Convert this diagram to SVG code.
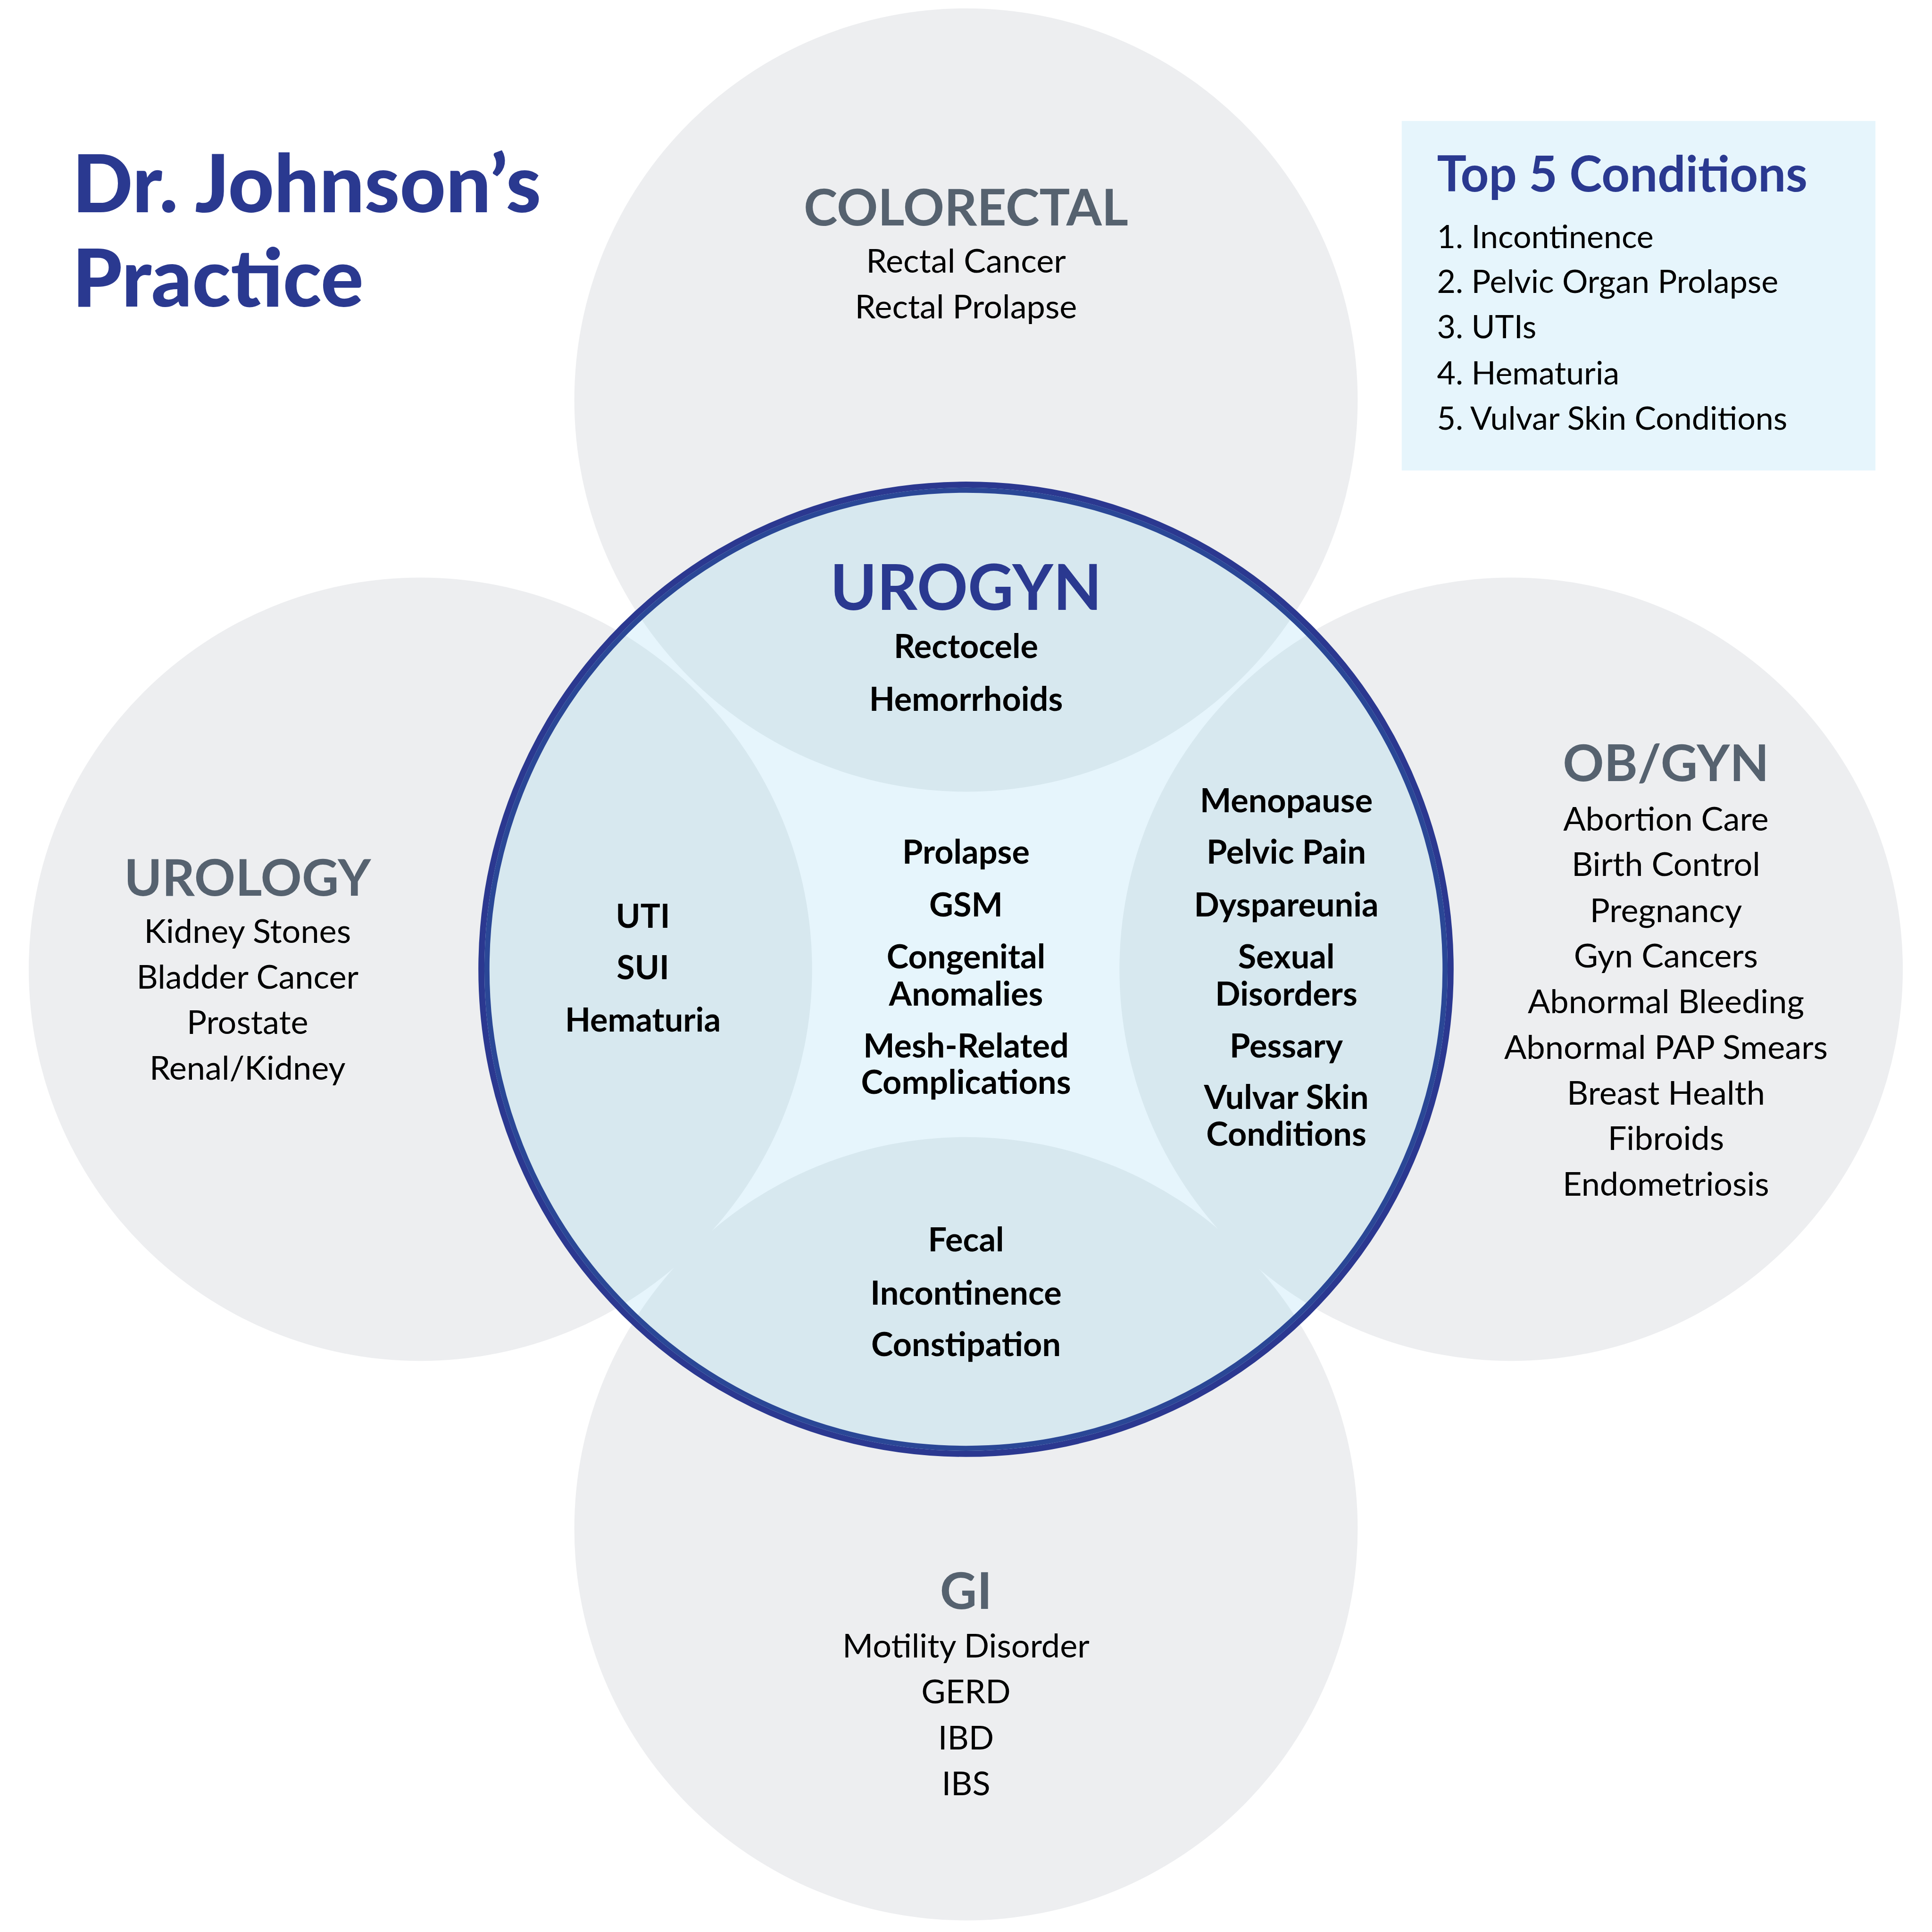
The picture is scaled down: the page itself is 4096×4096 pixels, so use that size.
<svg xmlns="http://www.w3.org/2000/svg" width="4096" height="4096" viewBox="0 0 4096 4096">
<style>
.gray{fill:#edeef0}
.lens{fill:#d7e8ef}
.hdr{font-family:Lato,"Liberation Sans",sans-serif;font-weight:700;font-size:110px;fill:#56626f;text-anchor:middle}
.item{font-family:Lato,"Liberation Sans",sans-serif;font-weight:400;font-size:71.5px;fill:#000;text-anchor:middle}
.bitem{font-family:Lato,"Liberation Sans",sans-serif;font-weight:700;font-size:71.5px;fill:#000;text-anchor:middle}
.title{font-family:Lato,"Liberation Sans",sans-serif;font-weight:900;font-size:172px;fill:#2a3990}
.top5h{font-family:Lato,"Liberation Sans",sans-serif;font-weight:700;font-size:106.3px;fill:#2a3990}
.top5{font-family:Lato,"Liberation Sans",sans-serif;font-weight:400;font-size:69.3px;fill:#000}
</style>
<defs>
<clipPath id="centerClip"><circle cx="2084" cy="2091" r="1046"/></clipPath>
</defs>
<rect width="4096" height="4096" fill="#ffffff"/>
<g transform="scale(0.98273)">
  <g id="colorectal"><circle class="gray" cx="2084" cy="863" r="845"/></g>
  <g id="urology"><circle class="gray" cx="907" cy="2091" r="845"/></g>
  <g id="obgyn"><circle class="gray" cx="3260" cy="2091" r="845"/></g>
  <g id="gi"><circle class="gray" cx="2084" cy="3298" r="845"/></g>
  <g id="urogyn">
    <circle cx="2084" cy="2091" r="1046" fill="#e6f5fc"/>
    <g clip-path="url(#centerClip)">
      <circle class="lens" cx="2084" cy="863" r="845"/>
      <circle class="lens" cx="907" cy="2091" r="845"/>
      <circle class="lens" cx="3260" cy="2091" r="845"/>
      <circle class="lens" cx="2084" cy="3298" r="845"/>
    </g>
    <circle cx="2084" cy="2091" r="1045.5" fill="none" stroke="#2b3890" stroke-width="13"/>
    <circle cx="2084" cy="2091" r="1033.5" fill="none" stroke="#2a4796" stroke-width="11"/>
  </g>
  <g id="connectors"></g>

  <g id="title-text">
    <text class="title" x="156" y="458">Dr. Johnson’s</text>
    <text class="title" x="156" y="661">Practice</text>
  </g>

  <g id="top5">
    <rect x="3024" y="261" width="1022" height="754" fill="#e6f5fc"/>
    <text class="top5h" x="3100" y="413">Top 5 Conditions</text>
    <text class="top5" x="3100" y="535">1. Incontinence</text>
    <text class="top5" x="3100" y="632">2. Pelvic Organ Prolapse</text>
    <text class="top5" x="3100" y="730">3. UTIs</text>
    <text class="top5" x="3100" y="829">4. Hematuria</text>
    <text class="top5" x="3100" y="927">5. Vulvar Skin Conditions</text>
  </g>

  <g id="colorectal-text">
    <text class="hdr" x="2084" y="486">COLORECTAL</text>
    <text class="item" x="2084" y="588">Rectal Cancer</text>
    <text class="item" x="2084" y="687">Rectal Prolapse</text>
  </g>

  <g id="urology-text">
    <text class="hdr" x="534" y="1932">UROLOGY</text>
    <text class="item" x="534" y="2034">Kidney Stones</text>
    <text class="item" x="534" y="2133">Bladder Cancer</text>
    <text class="item" x="534" y="2231">Prostate</text>
    <text class="item" x="534" y="2329">Renal/Kidney</text>
  </g>

  <g id="obgyn-text">
    <text class="hdr" x="3594" y="1685">OB/GYN</text>
    <text class="item" x="3594" y="1792">Abortion Care</text>
    <text class="item" x="3594" y="1890">Birth Control</text>
    <text class="item" x="3594" y="1989">Pregnancy</text>
    <text class="item" x="3594" y="2087">Gyn Cancers</text>
    <text class="item" x="3594" y="2186">Abnormal Bleeding</text>
    <text class="item" x="3594" y="2284">Abnormal PAP Smears</text>
    <text class="item" x="3594" y="2383">Breast Health</text>
    <text class="item" x="3594" y="2481">Fibroids</text>
    <text class="item" x="3594" y="2580">Endometriosis</text>
  </g>

  <g id="gi-text">
    <text class="hdr" x="2084" y="3471">GI</text>
    <text class="item" x="2084" y="3576">Motility Disorder</text>
    <text class="item" x="2084" y="3674">GERD</text>
    <text class="item" x="2084" y="3774">IBD</text>
    <text class="item" x="2084" y="3873">IBS</text>
  </g>

  <g id="urogyn-text">
    <text x="2084" y="1316" text-anchor="middle" font-family="Lato,'Liberation Sans',sans-serif" font-weight="700" font-size="136" fill="#2a3990">UROGYN</text>
    <text class="bitem" x="2084" y="1420">Rectocele</text>
    <text class="bitem" x="2084" y="1533">Hemorrhoids</text>
    <text class="bitem" x="2084" y="1863">Prolapse</text>
    <text class="bitem" x="2084" y="1977">GSM</text>
    <text class="bitem" x="2084" y="2089">Congenital</text>
    <text class="bitem" x="2084" y="2169">Anomalies</text>
    <text class="bitem" x="2084" y="2281">Mesh-Related</text>
    <text class="bitem" x="2084" y="2360">Complications</text>
  </g>

  <g id="urology-urogyn-text">
    <text class="bitem" x="1387" y="2002">UTI</text>
    <text class="bitem" x="1387" y="2113">SUI</text>
    <text class="bitem" x="1387" y="2225">Hematuria</text>
  </g>

  <g id="obgyn-urogyn-text">
    <text class="bitem" x="2775" y="1752">Menopause</text>
    <text class="bitem" x="2775" y="1863">Pelvic Pain</text>
    <text class="bitem" x="2775" y="1977">Dyspareunia</text>
    <text class="bitem" x="2775" y="2089">Sexual</text>
    <text class="bitem" x="2775" y="2169">Disorders</text>
    <text class="bitem" x="2775" y="2281">Pessary</text>
    <text class="bitem" x="2775" y="2392">Vulvar Skin</text>
    <text class="bitem" x="2775" y="2472">Conditions</text>
  </g>

  <g id="gi-urogyn-text">
    <text class="bitem" x="2084" y="2700">Fecal</text>
    <text class="bitem" x="2084" y="2815">Incontinence</text>
    <text class="bitem" x="2084" y="2926">Constipation</text>
  </g>
</g>
</svg>
